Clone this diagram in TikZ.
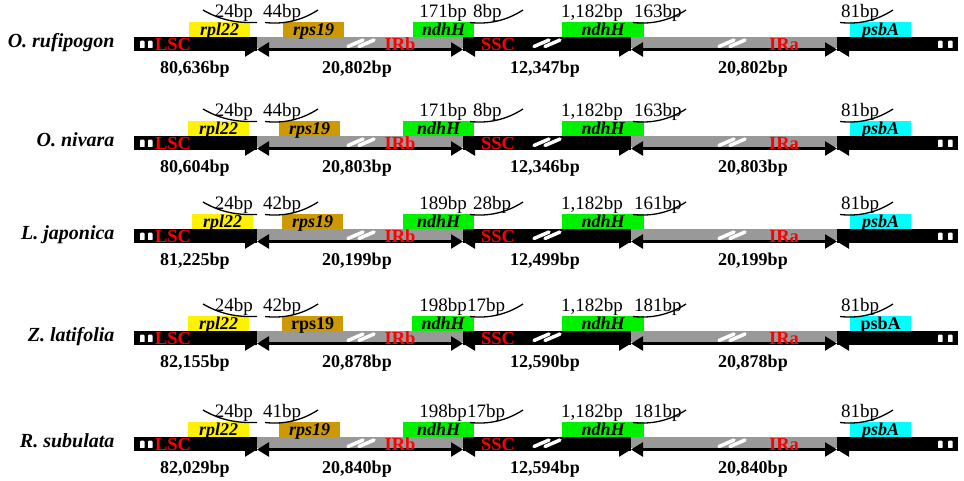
\documentclass[tikz,border=0pt]{standalone}
\usepackage{fontspec}
\setmainfont{Liberation Serif}
\usetikzlibrary{arrows.meta}
\definecolor{irgray}{RGB}{153,153,153}
\definecolor{rpsgold}{RGB}{204,153,0}
\definecolor{ndhgreen}{RGB}{0,240,0}
\definecolor{psbcyan}{RGB}{0,255,255}
\definecolor{regred}{RGB}{255,0,0}
\begin{document}
\begin{tikzpicture}[x=1pt,y=-1pt,
  >={Triangle[length=12pt,width=14pt]},
  species/.style={anchor=base east,font=\fontsize{20}{22}\selectfont\bfseries\itshape},
  regsize/.style={anchor=base,font=\fontsize{18}{20}\selectfont\bfseries},
  regname/.style={anchor=base,text=regred,inner sep=0pt,font=\fontsize{18.5}{20}\selectfont\bfseries},
  toplab/.style={anchor=base,inner sep=0pt,font=\fontsize{19}{20}\selectfont},
  gene/.style={anchor=south west,inner sep=0pt,minimum width=61pt,minimum height=14.5pt,
    text height=13pt,text depth=1.5pt,font=\fontsize{18}{20}\selectfont\bfseries},
  bpcurve/.style={line width=1.3pt},
  slashmark/.style={white,line width=3.5pt,line cap=round},
  endmark/.style={fill=white,rounded corners=1pt},
  regspan/.style={line width=2.5pt}]
\useasboundingbox (0,0) rectangle (964,480);

\foreach \y/\sp/\lsc/\ir/\ssc/\la/\lb/\lc/\ld/\le/\xa/\xb/\xc/\xd/\gs [count=\r] in {
  37/O. rufipogon/{80,636}/{20,802}/{12,347}/24/44/171/8/163/189/283/413/473/\itshape,
  136/O. nivara/{80,604}/{20,803}/{12,346}/24/44/171/8/163/188/279/403/473/\itshape,
  229/L. japonica/{81,225}/{20,199}/{12,499}/24/42/189/28/161/192/282/403/473/\itshape,
  331/Z. latifolia/{82,155}/{20,878}/{12,590}/24/42/198/17/181/188/282/412/467/\upshape,
  437/R. subulata/{82,029}/{20,840}/{12,594}/24/41/198/17/181/188/279/403/467/\itshape}{
  % junctions on the bar
  \coordinate (lt\r) at (134,\y+12.5);
  \coordinate (jlb\r) at (257,\y+12.5);
  \coordinate (jsb\r) at (463,\y+12.5);
  \coordinate (jsa\r) at (631,\y+12.5);
  \coordinate (jla\r) at (837,\y+12.5);
  \coordinate (rt\r) at (958,\y+12.5);

  % the genome bar
  \fill (134,\y) rectangle (257,\y+13.5);
  \fill[irgray] (257,\y) rectangle (463,\y+11);
  \fill (463,\y) rectangle (631,\y+13.5);
  \fill[irgray] (631,\y) rectangle (837,\y+11);
  \fill (837,\y) rectangle (958,\y+13.5);
  \foreach \m in {140,148,938,948}
    \fill[endmark] (\m,\y+3.5) rectangle (\m+4.5,\y+11.5);
  \foreach \c in {347,533,718} {
    \draw[slashmark] (\c+1,\y+9.5) -- (\c+16,\y+3);
    \draw[slashmark] (\c+12,\y+9.5) -- (\c+27,\y+3);
  }

  % region lengths
  \draw[regspan,->] (lt\r) -- (jlb\r);
  \draw[regspan,<->] (jlb\r) -- (jsb\r);
  \draw[regspan,<->] (jsb\r) -- (jsa\r);
  \draw[regspan,<->] (jsa\r) -- (jla\r);
  \draw[regspan,<-] (jla\r) -- (rt\r);

  % genes
  \node[gene,fill=yellow] (rpl\r) at (\xa,\y) {\itshape rpl22};
  \node[gene,fill=rpsgold] (rps\r) at (\xb,\y) {\gs rps19};
  \node[gene,fill=ndhgreen,minimum width=474pt-\xc pt] (ndhb\r) at (\xc,\y) {\itshape ndhH};
  \node[gene,fill=ndhgreen,minimum width=82pt] (ndha\r) at (562,\y) {\itshape ndhH};
  \node[gene,fill=psbcyan] (psb\r) at (850,\y) {\gs psbA};

  % distances to the junctions
  \node[toplab,anchor=base east] (la\r) at (253,\y-20) {\la bp};
  \node[toplab,anchor=base west] (lb\r) at (263,\y-20) {\lb bp};
  \node[toplab,anchor=base east] (lc\r) at (467,\y-20) {\lc bp};
  \node[toplab,anchor=base west] (ld\r) at (\xd,\y-20) {\ld bp};
  \node[toplab] (lm\r) at (592,\y-20) {1,182bp};
  \node[toplab,anchor=base west] (le\r) at (634,\y-20) {\le bp};
  \node[toplab,anchor=base west] (lf\r) at (841,\y-20) {81bp};
  \draw[bpcurve] (203,\y-27) .. controls (222,\y-16) and (238,\y-14) .. (257,\y-14.5);
  \foreach \s in {265,470,633,840}
    \draw[bpcurve] (\s,\y-14.5) .. controls (\s+18,\y-12.5) and (\s+36,\y-16) .. (\s+53,\y-27);

  % region names and sizes
  \node[regname] (nlsc\r) at (173,\y+13) {LSC};
  \node[regname] (nirb\r) at (400,\y+13) {IRb};
  \node[regname] (nssc\r) at (498,\y+13) {SSC};
  \node[regname] (nira\r) at (784,\y+13) {IRa};
  \node[regsize] (slsc\r) at (195,\y+36) {\lsc bp};
  \node[regsize] (sirb\r) at (357,\y+36) {\ir bp};
  \node[regsize] (sssc\r) at (545,\y+36) {\ssc bp};
  \node[regsize] (sira\r) at (753,\y+36) {\ir bp};

  \node[species] (sp\r) at (118,\y+10) {\sp};
}
\end{tikzpicture}
\end{document}
